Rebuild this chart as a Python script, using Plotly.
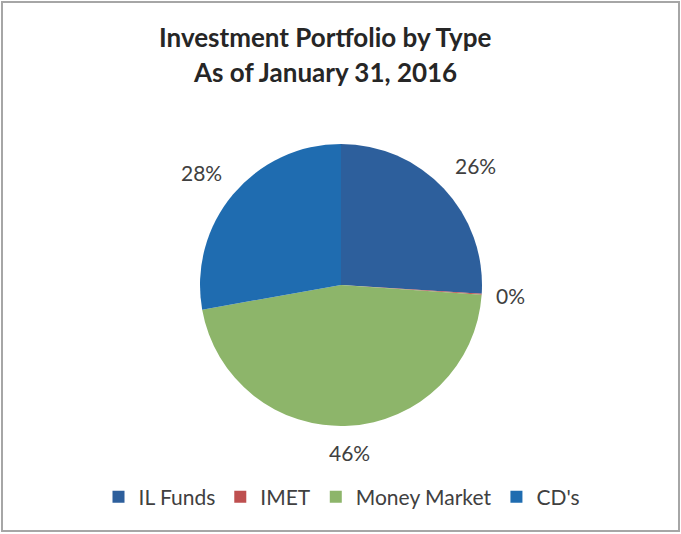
import math
import plotly.graph_objects as go

categories = ["IL Funds", "IMET", "Money Market", "CD's"]
values = [26.0, 0.1, 46.1, 27.8]
colors = ["#2D5F9C", "#BE4F4F", "#8DB56A", "#1F6CB0"]
title_lines = ["Investment Portfolio by Type", "As of January 31, 2016"]

W, H = 681, 534
cx, cy, r = 341, 285, 141
label_gap = 12
label_font = dict(family="Lato, Open Sans, sans-serif", size=21, color="#404040")

fig = go.Figure()
fig.add_trace(go.Pie(
    labels=categories,
    values=values,
    sort=False,
    direction="clockwise",
    rotation=0,
    marker=dict(colors=colors, line=dict(color="white", width=0)),
    textinfo="none",
    domain=dict(x=[(cx - r) / W, (cx + r) / W], y=[(H - cy - r) / H, (H - cy + r) / H]),
    hoverinfo="label+percent",
    automargin=False,
))

# outside percentage labels, placed at each slice's mid-angle (clockwise from 12 o'clock)
total = sum(values)
cum = 0.0
for v in values:
    frac = v / total
    mid = (cum + frac / 2) * 2 * math.pi
    cum += frac
    s, c = math.sin(mid), math.cos(mid)
    R = r + label_gap
    px, py = cx + R * s, cy - R * c
    xa = "left" if s > 0.1 else ("right" if s < -0.1 else "center")
    ya = "bottom" if c > 0.1 else ("top" if c < -0.1 else "middle")
    fig.add_annotation(
        text=f"{round(frac * 100):d}%", x=px / W, y=1 - py / H, xref="paper", yref="paper",
        xanchor=xa, yanchor=ya, showarrow=False, font=label_font,
    )

for txt, ypx in zip(title_lines, [37, 72]):
    fig.add_annotation(
        text=f"<b>{txt}</b>", x=325 / W, y=1 - ypx / H, xref="paper", yref="paper",
        xanchor="center", yanchor="middle", showarrow=False,
        font=dict(family="Lato, Open Sans, sans-serif", size=26, color="#262626"),
    )

fig.add_shape(type="rect", xref="paper", yref="paper",
              x0=2 / W, x1=1 - 2 / W, y0=3 / H, y1=1 - 2 / H,
              line=dict(color="#A6A6A6", width=2))

fig.update_layout(
    width=W, height=H,
    margin=dict(l=0, r=0, t=0, b=0),
    paper_bgcolor="white", plot_bgcolor="white",
    showlegend=True,
    legend=dict(orientation="h", x=342 / W, xanchor="center", y=1 - 497 / H, yanchor="middle",
                font=dict(family="Lato, Open Sans, sans-serif", size=21, color="#404040"),
                itemwidth=30, traceorder="normal"),
)

fig.write_html("out.html", config={"displayModeBar": False},
               post_script="document.body.style.margin='0';document.body.style.overflow='hidden';")
